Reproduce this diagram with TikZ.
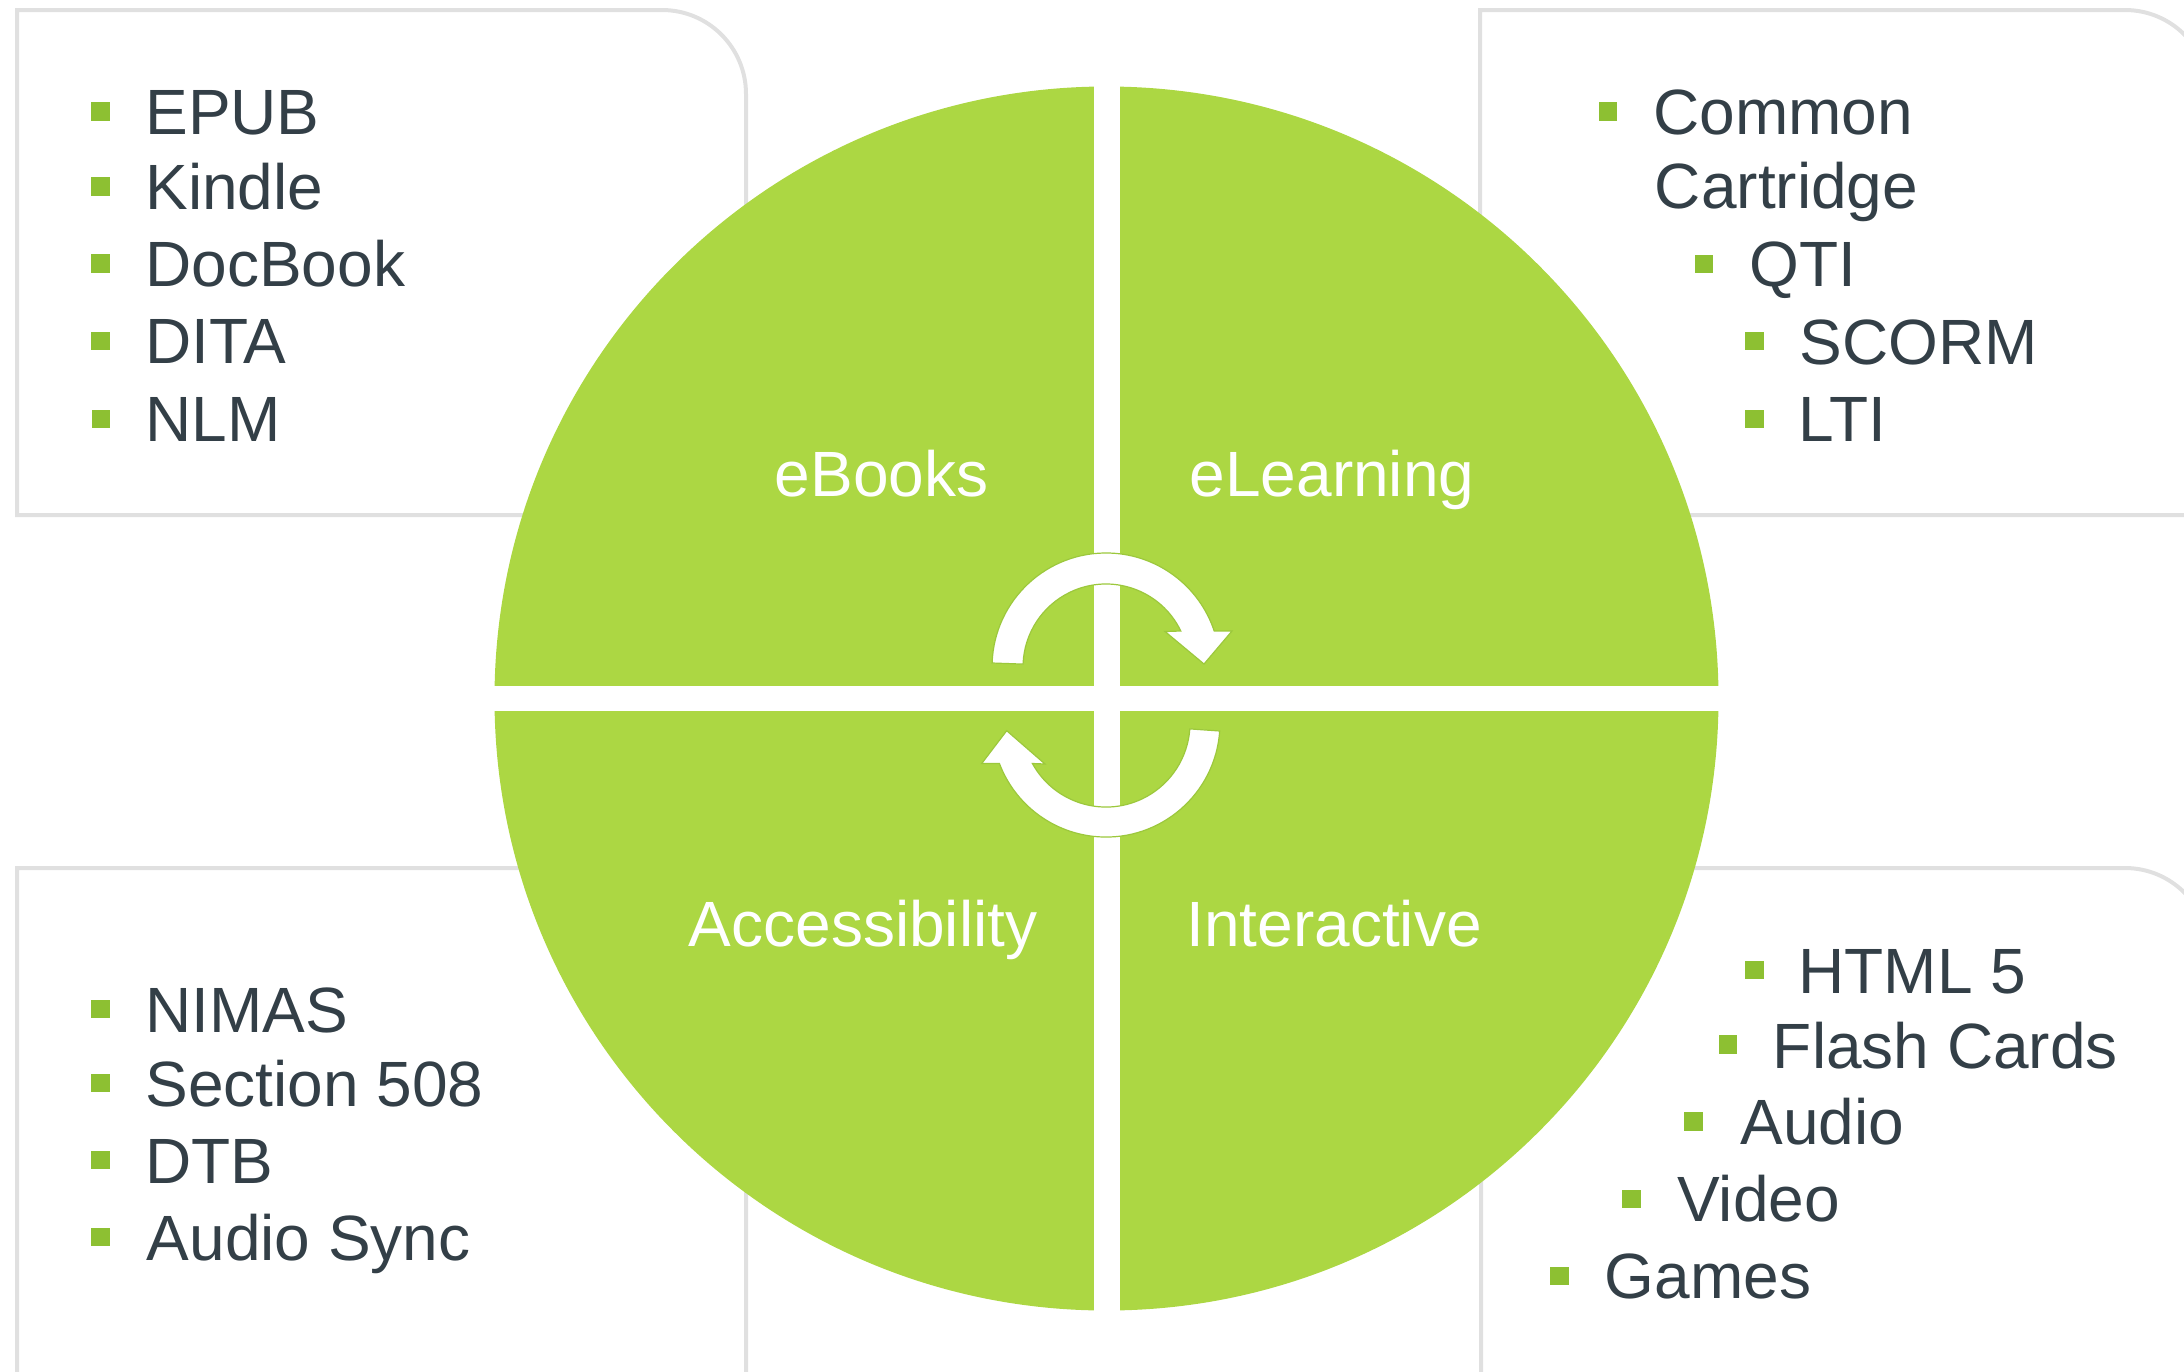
\documentclass[tikz,border=0pt]{standalone}
\usepackage{fontspec}
\setmainfont{Liberation Sans}
\definecolor{cgreen}{HTML}{ACD743}
\definecolor{bulgreen}{HTML}{8DC032}
\definecolor{txtdark}{HTML}{333F47}
\definecolor{boxgray}{HTML}{E0E0E0}
\definecolor{arrowedge}{HTML}{9CC83C}
\begin{document}
\begin{tikzpicture}[x=0.5pt,y=-0.5pt,
  panel/.style={draw=boxgray, line width=2pt},
  bul/.style={fill=bulgreen, minimum size=9.3pt, inner sep=0pt, outer sep=0pt},
  item/.style={anchor=base west, inner sep=0pt, text=txtdark, font=\fontsize{32}{38}\selectfont},
  qlabel/.style={anchor=base, inner sep=0pt, text=white, font=\fontsize{32}{38}\selectfont},
  cyclearrow/.style={fill=white, draw=arrowedge, line width=0.6pt, line join=miter}]
\useasboundingbox (0,0) rectangle (2184,1371);
\clip (0,0) rectangle (2184,1371);

% panels (single rounded corner at top right)
\draw[panel] (17,515) -- (17,10) -- (662,10) arc[start angle=270, end angle=360, radius=84] -- (746,515) -- cycle;
\draw[panel] (1480,515) -- (1480,10) -- (2125,10) arc[start angle=270, end angle=360, radius=84] -- (2209,515) -- cycle;
\draw[panel] (17,1460) -- (17,868) -- (662,868) arc[start angle=270, end angle=360, radius=84] -- (746,1460) -- cycle;
\draw[panel] (1481,1460) -- (1481,868) -- (2125,868) arc[start angle=270, end angle=360, radius=84] -- (2209,1460) -- cycle;

% central circle split into quadrants
\fill[cgreen] (1106.5,698.5) circle[radius=612];
\begin{scope}
  \clip (1106.5,698.5) circle[radius=614];
  \fill[white] (1093.5,0) rectangle (1119.5,1371);
  \fill[white] (0,686) rectangle (2184,711);
\end{scope}

% cycle arrows
\path[cyclearrow] (992.1,663) arc[start angle=182, end angle=341.6, radius=114]
  -- (1232,631) -- (1204,664) -- (1165,631.5) -- (1180.8,631)
  arc[start angle=334.3, end angle=182, radius=83] -- cycle;
\path[cyclearrow] (1219.7,731) arc[start angle=4, end angle=159.2, radius=114]
  -- (981.7,763.5) -- (1006.7,730.7) -- (1045,764) -- (1032.4,763.5)
  arc[start angle=151.2, end angle=4, radius=84] -- cycle;

% quadrant labels
\node[qlabel] (ebooks) at (881.7,496) {eBooks};
\node[qlabel] (elearning) at (1332,496) {eLearning};
\node[qlabel] (access) at (863,946) {Accessibility};
\node[qlabel] (inter) at (1334,946) {Interactive};

% top-left list
\node[bul] (b1) at (100.5,111.5) {};  \node[item] (t1) at (145,134.5) {EPUB};
\node[bul] (b2) at (100.5,186.5) {};  \node[item] (t2) at (145,209.3) {Kindle};
\node[bul] (b3) at (100.5,263.5) {};  \node[item] (t3) at (145,286) {DocBook};
\node[bul] (b4) at (100.5,341) {};    \node[item] (t4) at (145,363.8) {DITA};
\node[bul] (b5) at (101,419) {};      \node[item] (t5) at (145,441.4) {NLM};

% top-right list
\node[bul] (c1) at (1608,111.5) {};   \node[item] (u1) at (1653,134.5) {Common};
                                       \node[item] (u2) at (1654.5,208.6) {Cartridge};
\node[bul] (c3) at (1704,264) {};     \node[item] (u3) at (1749,286) {QTI};
\node[bul] (c4) at (1754.6,341) {};   \node[item] (u4) at (1799.5,364) {SCORM};
\node[bul] (c5) at (1754.6,419) {};   \node[item] (u5) at (1798,441) {LTI};

% bottom-left list
\node[bul] (d1) at (100.5,1009) {};   \node[item] (v1) at (145,1032) {NIMAS};
\node[bul] (d2) at (100.5,1083) {};   \node[item] (v2) at (145,1106) {Section 508};
\node[bul] (d3) at (100.5,1160) {};   \node[item] (v3) at (145,1183) {DTB};
\node[bul] (d4) at (100.5,1237) {};   \node[item] (v4) at (146.5,1260) {Audio Sync};

% bottom-right list
\node[bul] (e1) at (1754.6,970) {};   \node[item] (w1) at (1798,993.5) {HTML 5};
\node[bul] (e2) at (1727.8,1044.6) {};\node[item] (w2) at (1772.5,1068) {Flash Cards};
\node[bul] (e3) at (1693.2,1121.7) {};\node[item] (w3) at (1740,1144) {Audio};
\node[bul] (e4) at (1631.7,1199) {};  \node[item] (w4) at (1677,1221.5) {Video};
\node[bul] (e5) at (1559.7,1276) {};  \node[item] (w5) at (1604.5,1298.6) {Games};
\end{tikzpicture}
\end{document}
